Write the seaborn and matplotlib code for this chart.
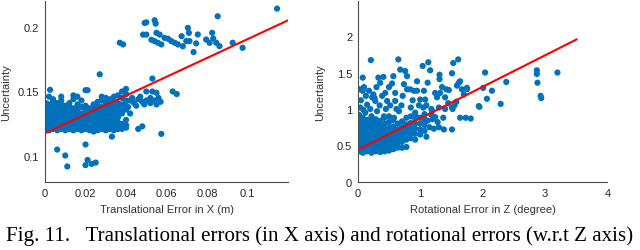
import numpy as np
import pandas as pd
import matplotlib
matplotlib.use("Agg")
import matplotlib.pyplot as plt
import seaborn as sns

sns.set_style("white")
plt.rcParams["font.family"] = ["Liberation Sans", "DejaVu Sans"]

# ---- left panel: translational error (m) vs uncertainty ----
# dense core, one entry per column: (x, [y values])
trans_core = [
    (0.0005, [0.121, 0.123, 0.125, 0.127, 0.129, 0.131, 0.133, 0.135, 0.137, 0.139, 0.141]),
    (0.002, [0.120, 0.122, 0.124, 0.126, 0.128, 0.130, 0.132, 0.134, 0.136, 0.138, 0.140, 0.146]),
    (0.004, [0.121, 0.123, 0.125, 0.127, 0.129, 0.131, 0.133, 0.135, 0.137, 0.139, 0.142, 0.144]),
    (0.006, [0.120, 0.122, 0.124, 0.126, 0.128, 0.130, 0.132, 0.134, 0.136, 0.138, 0.141]),
    (0.008, [0.121, 0.123, 0.125, 0.127, 0.129, 0.131, 0.133, 0.135, 0.137, 0.140, 0.143, 0.146]),
    (0.010, [0.120, 0.122, 0.124, 0.126, 0.128, 0.130, 0.132, 0.134, 0.136, 0.139]),
    (0.012, [0.121, 0.123, 0.125, 0.127, 0.129, 0.131, 0.133, 0.135, 0.138, 0.141]),
    (0.014, [0.120, 0.122, 0.124, 0.126, 0.128, 0.130, 0.132, 0.134, 0.137, 0.144, 0.147]),
    (0.016, [0.121, 0.123, 0.125, 0.127, 0.129, 0.131, 0.134, 0.136, 0.140, 0.146]),
    (0.018, [0.120, 0.122, 0.124, 0.126, 0.128, 0.130, 0.133, 0.138, 0.143]),
    (0.020, [0.121, 0.123, 0.125, 0.127, 0.129, 0.132, 0.135, 0.139, 0.151]),
    (0.022, [0.120, 0.122, 0.124, 0.126, 0.128, 0.131, 0.134, 0.137]),
    (0.024, [0.119, 0.121, 0.123, 0.125, 0.127, 0.130, 0.133, 0.136, 0.140]),
    (0.026, [0.120, 0.122, 0.124, 0.126, 0.128, 0.131, 0.135, 0.139, 0.142]),
    (0.028, [0.121, 0.123, 0.125, 0.127, 0.130, 0.134, 0.138, 0.143, 0.146]),
    (0.030, [0.120, 0.122, 0.124, 0.126, 0.129, 0.133, 0.137, 0.141, 0.145]),
    (0.032, [0.121, 0.123, 0.125, 0.128, 0.132, 0.136, 0.140, 0.144]),
    (0.034, [0.120, 0.122, 0.124, 0.127, 0.131, 0.135, 0.139, 0.142, 0.146]),
    (0.036, [0.121, 0.123, 0.126, 0.130, 0.134, 0.138, 0.141, 0.147]),
    (0.038, [0.121, 0.123, 0.125, 0.133, 0.137, 0.140, 0.145, 0.150]),
    (0.040, [0.122, 0.124, 0.128, 0.136, 0.139, 0.143, 0.148, 0.152]),
]
trans_band_x = [0.042, 0.044, 0.045, 0.043, 0.046, 0.048, 0.049, 0.050, 0.052, 0.052,
                0.054, 0.055, 0.056, 0.057, 0.053, 0.047, 0.041, 0.042, 0.050, 0.055]
trans_band_y = [0.143, 0.141, 0.139, 0.145, 0.144, 0.142, 0.140, 0.143, 0.145, 0.141,
                0.143, 0.140, 0.145, 0.142, 0.150, 0.146, 0.138, 0.133, 0.150, 0.149]
trans_upper_x = [0.1145, 0.0852, 0.0492, 0.0500, 0.0541, 0.0546, 0.0484, 0.0500, 0.0550,
                 0.0566, 0.0525, 0.0541, 0.0557, 0.0574, 0.0590, 0.0607, 0.0623, 0.0640,
                 0.0656, 0.0680, 0.0697, 0.0713, 0.0705, 0.0710, 0.0674, 0.0754, 0.0825,
                 0.0926, 0.0975, 0.0733, 0.0746, 0.0795, 0.0812, 0.0845, 0.0861, 0.0830,
                 0.0369, 0.0385]
trans_upper_y = [0.2141, 0.2082, 0.2030, 0.2035, 0.2051, 0.2025, 0.1940, 0.1940, 0.1954,
                 0.1940, 0.1900, 0.1889, 0.1877, 0.1864, 0.1915, 0.1908, 0.1890, 0.1877,
                 0.1864, 0.1850, 0.1890, 0.1890, 0.1992, 0.1954, 0.1928, 0.1941, 0.1954,
                 0.1877, 0.1838, 0.1805, 0.1872, 0.1902, 0.1877, 0.1877, 0.1851, 0.1910,
                 0.1877, 0.1864]
trans_out_x = [0.027, 0.053, 0.063, 0.065, 0.0574, 0.046, 0.048, 0.033, 0.006, 0.010,
               0.011, 0.020, 0.020, 0.021, 0.023, 0.025, 0.0025, 0.021]
trans_out_y = [0.1633, 0.160, 0.150, 0.148, 0.1172, 0.121, 0.123, 0.1151, 0.1051, 0.1005,
               0.092, 0.109, 0.093, 0.097, 0.094, 0.095, 0.1513, 0.151]
trans_fit_x = [0.0, 0.12]
trans_fit_y = [0.1177, 0.2051]

# ---- right panel: rotational error (deg) vs uncertainty ----
rot_core = [
    (0.02, [0.42, 0.48, 0.54, 0.60, 0.66, 0.72, 0.78, 0.84, 0.92]),
    (0.08, [0.40, 0.46, 0.52, 0.58, 0.64, 0.70, 0.76, 0.82, 0.88]),
    (0.15, [0.42, 0.48, 0.54, 0.60, 0.66, 0.72, 0.78, 0.85]),
    (0.22, [0.40, 0.46, 0.52, 0.58, 0.64, 0.70, 0.76, 0.83, 0.90]),
    (0.29, [0.42, 0.48, 0.54, 0.60, 0.66, 0.72, 0.79, 0.86]),
    (0.36, [0.41, 0.47, 0.53, 0.59, 0.65, 0.71, 0.78, 0.84]),
    (0.43, [0.42, 0.48, 0.54, 0.60, 0.66, 0.73, 0.80, 0.88]),
    (0.50, [0.43, 0.49, 0.55, 0.61, 0.67, 0.74, 0.82]),
    (0.57, [0.45, 0.51, 0.57, 0.63, 0.69, 0.76, 0.85]),
    (0.64, [0.47, 0.53, 0.59, 0.66, 0.72, 0.80]),
    (0.71, [0.47, 0.55, 0.62, 0.68, 0.75, 0.83]),
    (0.78, [0.48, 0.58, 0.65, 0.72, 0.79, 0.88]),
    (0.85, [0.60, 0.67, 0.74, 0.81, 0.90]),
    (0.92, [0.58, 0.66, 0.73, 0.80, 0.87, 0.95]),
    (1.00, [0.65, 0.72, 0.80, 0.88]),
    (1.07, [0.70, 0.78, 0.85, 0.93]),
]
rot_side_x = [1.15, 1.22, 1.30, 1.38, 1.12, 1.20, 1.10, 1.18, 1.28, 1.05, 1.10]
rot_side_y = [0.75, 0.73, 0.75, 0.72, 0.84, 0.86, 0.62, 0.92, 0.82, 1.02, 1.05]
rot_scatter = [
    (0.21, 1.67), (0.08, 1.43), (0.03, 1.27), (0.08, 1.25), (0.04, 1.02), (0.09, 0.99),
    (0.33, 1.43), (0.41, 1.44), (0.36, 1.36), (0.25, 1.20), (0.27, 1.15), (0.23, 1.16),
    (0.28, 1.11), (0.15, 1.06), (0.39, 1.18), (0.44, 1.22), (0.47, 1.11), (0.60, 1.22),
    (0.60, 1.11), (0.65, 1.68), (0.68, 1.54), (0.57, 1.45), (0.76, 1.52), (0.79, 1.45),
    (0.74, 1.34), (0.79, 1.27), (0.84, 1.27), (0.90, 1.25), (0.95, 1.25), (0.95, 1.38),
    (1.00, 1.13), (1.06, 1.25), (1.08, 1.13), (1.04, 1.59), (1.13, 1.64), (1.16, 1.53),
    (1.24, 1.22), (1.27, 1.16), (1.32, 1.22), (1.31, 1.47), (1.31, 1.41), (1.40, 1.16),
    (1.42, 1.27), (1.46, 1.26), (1.51, 1.49), (1.53, 1.63), (1.61, 1.68), (1.59, 1.32),
    (1.62, 1.36), (1.64, 1.38), (1.67, 1.27), (1.70, 1.20), (1.75, 1.27), (1.75, 1.29),
    (1.94, 1.04), (1.95, 1.03), (2.04, 1.50), (2.01, 1.29), (2.07, 1.14), (2.15, 1.25),
    (2.29, 1.07), (2.38, 1.37), (2.87, 1.53), (2.87, 1.48), (2.88, 1.36), (2.93, 1.18),
    (2.94, 1.15), (3.20, 1.50), (1.64, 0.88), (1.73, 0.88), (1.81, 0.87), (1.51, 0.72),
    (0.31, 0.97), (0.42, 0.90), (0.50, 0.90), (0.58, 0.88), (0.66, 0.97), (0.85, 1.02),
    (0.93, 0.90), (1.06, 0.88), (1.19, 0.97), (1.30, 1.02), (1.40, 1.00), (1.51, 1.02),
    (1.37, 0.88), (1.24, 0.89), (1.45, 1.08), (1.55, 1.05), (1.58, 1.10), (1.52, 1.00),
    (0.12, 0.95), (0.20, 1.00), (0.18, 1.25), (0.50, 1.30), (0.52, 1.05), (0.70, 1.05),
    (0.72, 1.18), (1.12, 1.36), (1.18, 1.00), (1.35, 1.30), (0.05, 1.12), (0.10, 1.30),
    (0.13, 1.18), (0.30, 1.30), (0.35, 1.05), (0.55, 1.35), (0.62, 1.00), (0.88, 1.12),
    (0.98, 1.05), (0.45, 1.00),
]
rot_fit_x = [0.0, 3.51]
rot_fit_y = [0.44, 1.955]


def columns_to_frame(cols):
    rows = [(x, y) for x, ys in cols for y in ys]
    return pd.DataFrame(rows, columns=["err", "unc"])


trans = pd.concat([
    columns_to_frame(trans_core),
    pd.DataFrame({"err": trans_band_x, "unc": trans_band_y}),
    pd.DataFrame({"err": trans_upper_x, "unc": trans_upper_y}),
    pd.DataFrame({"err": trans_out_x, "unc": trans_out_y}),
], ignore_index=True)
rot = pd.concat([
    columns_to_frame(rot_core),
    pd.DataFrame({"err": rot_side_x, "unc": rot_side_y}),
    pd.DataFrame(rot_scatter, columns=["err", "unc"]),
], ignore_index=True)

BLUE = "#0072BD"
AX_COL = "#4d4d4d"

fig = plt.figure(figsize=(6.4, 2.51), dpi=100)
ax1 = fig.add_axes([0.0703, 0.271, 0.380, 0.721])
ax2 = fig.add_axes([0.559, 0.271, 0.390, 0.721])

panels = [
    (ax1, trans, trans_fit_x, trans_fit_y, (0, 0.12), (0.08, 0.22),
     [0, 0.02, 0.04, 0.06, 0.08, 0.1], [0.1, 0.15, 0.2],
     ["0", "0.02", "0.04", "0.06", "0.08", "0.1"], ["0.1", "0.15", "0.2"],
     "Translational Error in X (m)", -0.14),
    (ax2, rot, rot_fit_x, rot_fit_y, (0, 4), (0, 2.48),
     [0, 1, 2, 3, 4], [0, 0.5, 1, 1.5, 2],
     ["0", "1", "2", "3", "4"], ["0", "0.5", "1", "1.5", "2"],
     "Rotational Error in Z (degree)", -0.13),
]

for ax, df, fx, fy, xl, yl, xt, yt, xtl, ytl, xlab, ylx in panels:
    sns.scatterplot(data=df, x="err", y="unc", ax=ax, color=BLUE, s=20,
                    linewidth=0, edgecolor="none", legend=False)
    ax.plot(fx, fy, color="#ff0000", linewidth=1.5)
    ax.set_xlim(*xl)
    ax.set_ylim(*yl)
    ax.set_xticks(xt)
    ax.set_xticklabels(xtl)
    ax.set_yticks(yt)
    ax.set_yticklabels(ytl)
    ax.set_xlabel(xlab, fontsize=8, color="#333333", labelpad=5)
    ax.set_ylabel("Uncertainty", fontsize=8, color="#333333")
    ax.yaxis.set_label_coords(ylx, 0.5)
    for side in ["top", "right"]:
        ax.spines[side].set_visible(False)
    for side in ["left", "bottom"]:
        ax.spines[side].set_color(AX_COL)
        ax.spines[side].set_linewidth(0.8)
    ax.tick_params(direction="in", length=3, width=0.6, colors=AX_COL,
                   labelsize=8, labelcolor="#262626", pad=4)

fig.text(0.5, 0.058,
         "Fig. 11.   Translational errors (in X axis) and rotational errors (w.r.t Z axis)",
         ha="center", va="center", fontsize=15.1,
         family=["Liberation Serif", "DejaVu Serif"], color="black")

fig.savefig("out.png", dpi=100)
